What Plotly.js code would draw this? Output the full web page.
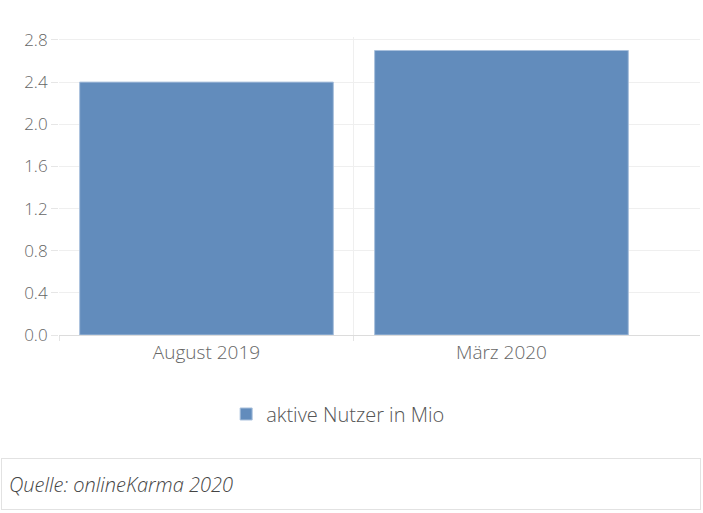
<!DOCTYPE html>
<html>
<head>
<meta charset="utf-8">
<script src="https://cdn.plot.ly/plotly-3.0.1.min.js"></script>
<style>
  html, body { margin: 0; padding: 0; background: #fff; }
  #myDiv { width: 703px; height: 513px; }
</style>
</head>
<body>
<div id="myDiv"></div>
<script>
var categories = ['August 2019', 'März 2020'];
var nutzer = [2.4, 2.7];
var seriesName = 'aktive Nutzer in Mio';
var yTicks = [0, 0.4, 0.8, 1.2, 1.6, 2.0, 2.4, 2.8];
var sourceText = 'Quelle: onlineKarma 2020';

// category positions on a linear axis, so boundary ticks can be placed
var xPos = categories.map(function (c, i) { return i; });
var xBounds = categories.map(function (c, i) { return i - 0.5; });

var trace1 = {
  x: xPos,
  y: nutzer,
  name: seriesName,
  type: 'bar',
  width: 0.86,
  marker: {color: '#628cbc', line: {color: '#a9c0dc', width: 1}},
  hovertext: categories,
  hoverinfo: 'text+y'
};

var fontFam = '"Open Sans", sans-serif';

var layout = {
  width: 703,
  height: 513,
  margin: {l: 59, r: 3, t: 37, b: 178},
  paper_bgcolor: '#fff',
  plot_bgcolor: '#fff',
  font: {family: fontFam, color: '#666', weight: 300},
  showlegend: true,
  legend: {
    orientation: 'h',
    xref: 'container', yref: 'container',
    x: 0.481, xanchor: 'center',
    y: 0.193, yanchor: 'middle',
    font: {size: 20, color: '#555', weight: 300}
  },
  xaxis: {
    type: 'linear',
    range: [-0.5, 1.673],
    tickmode: 'array',
    tickvals: xPos,
    ticktext: categories,
    showgrid: false,
    ticks: '',
    zeroline: false,
    showline: true,
    linecolor: '#dcdcdc',
    linewidth: 1,
    tickfont: {size: 19, color: '#666', weight: 300},
    minor: {
      tickmode: 'array',
      tickvals: xBounds,
      showgrid: true,
      gridcolor: '#efefef',
      ticks: 'outside',
      ticklen: 5,
      tickcolor: '#e4e4e4'
    },
    fixedrange: true
  },
  yaxis: {
    range: [0, 2.828],
    tickmode: 'array',
    tickvals: yTicks,
    ticktext: yTicks.map(function (v) { return v.toFixed(1); }),
    showgrid: true,
    gridcolor: '#efefef',
    zeroline: false,
    showline: false,
    ticks: 'outside',
    ticklen: 7,
    tickcolor: '#e6e6e6',
    tickfont: {size: 17, color: '#666', weight: 300},
    fixedrange: true
  },
  annotations: [{
    xref: 'paper', yref: 'paper',
    x: -58 / 641, xanchor: 'left',
    y: (335 - 484) / 298, yanchor: 'middle',
    text: '<i>' + sourceText + '</i>',
    showarrow: false,
    align: 'left',
    width: 684,
    height: 36,
    valign: 'middle',
    bordercolor: '#e2e2e2',
    borderwidth: 1,
    borderpad: 7,
    bgcolor: '#fff',
    font: {size: 20, color: '#444', family: fontFam, weight: 300}
  }]
};

Plotly.newPlot('myDiv', [trace1], layout, {displayModeBar: false});
</script>
</body>
</html>
